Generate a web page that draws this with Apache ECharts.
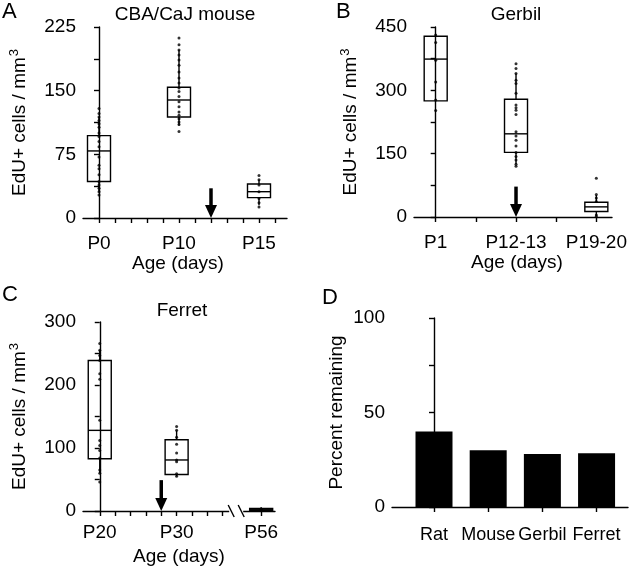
<!DOCTYPE html>
<html>
<head>
<meta charset="utf-8">
<script src="https://cdn.jsdelivr.net/npm/echarts@6/dist/echarts.min.js"></script>
<style>html,body{margin:0;padding:0;background:#fff;}#c{width:634px;height:569px;}</style>
</head>
<body>
<div id="c"></div>
<script>
// ---------- Panel A: CBA/CaJ mouse ----------
const aLabels = ['P0', 'P10', 'P15'];
const aPos = [0, 5, 10];
// [whiskerLow, Q1, median, Q3, whiskerHigh]
const aBoxes = [[31, 43, 79, 97, 119], [109, 119, 139, 154, 198], [15, 24, 31, 40, 45]];
const aDots0 = [129, 123, 119, 115, 111, 107, 100, 96, 90, 84, 72, 62, 58, 51, 43, 39, 35, 31, 27];
const aDots1 = [212, 204, 198, 192, 186, 180, 172, 165, 159, 153, 149, 143, 137, 131, 125, 121, 117, 113, 110, 102];
const aDots2 = [50, 45, 39, 31, 23, 18, 13];
const aArrow = [7, 35];
const aYTicks = [0, 75, 150, 225];

// ---------- Panel B: Gerbil ----------
const bLabels = ['P1', 'P12-13', 'P19-20'];
const bPos = [0, 2, 4];
const bBoxes = [[275, 275, 374, 428, 428], [125, 153, 197, 279, 340], [2, 13, 24, 35, 52]];
const bDots0 = [431, 413, 371, 320, 277, 252];
const bDots1 = [363, 352, 340, 324, 316, 293, 265, 259, 253, 243, 202, 192, 182, 168, 153, 143, 135, 125, 120];
const bDots2 = [92, 53, 45, 37, 5, 1];
const bArrow = [2, 72];
const bYTicks = [0, 150, 300, 450];

// ---------- Panel C: Ferret ----------
const cLabels = ['P20', 'P30', 'P56'];
const cPos = [0, 5, 10.5];
const cBoxes = [[60, 83, 128, 239, 255], [55, 58, 81, 113, 128], [0, 0.5, 2, 4, 6]];
const cDots0 = [266, 255, 247, 239, 218, 209, 144, 112, 104, 96, 84, 65, 60, 46];
const cDots1 = [134, 128, 117, 106, 92, 81, 78, 59, 55];
const cDots2 = [1, 2, 3];
const cArrow = [4, 49];
const cYTicks = [0, 100, 200, 300];

// ---------- Panel D: Percent remaining ----------
const dCats = ['Rat', 'Mouse', 'Gerbil', 'Ferret'];
const dValues = [40, 30, 28, 28.5];
const dYTicks = [0, 50, 100];

const FONT = 'Liberation Sans, Arial, sans-serif';
const FS = 19;

function boxRender(params, api) {
  const x = api.value(0);
  const lo = api.coord([x, api.value(1)]);
  const q1 = api.coord([x, api.value(2)]);
  const md = api.coord([x, api.value(3)]);
  const q3 = api.coord([x, api.value(4)]);
  const hi = api.coord([x, api.value(5)]);
  const hw = 11.5;
  const st = { stroke: '#000', lineWidth: 1.4, fill: null };
  return {
    type: 'group',
    children: [
      { type: 'line', shape: { x1: hi[0], y1: hi[1], x2: q3[0], y2: q3[1] }, style: st },
      { type: 'line', shape: { x1: q1[0], y1: q1[1], x2: lo[0], y2: lo[1] }, style: st },
      { type: 'rect', shape: { x: q3[0] - hw, y: q3[1], width: hw * 2, height: q1[1] - q3[1] }, style: { stroke: '#000', lineWidth: 1.4, fill: 'rgba(0,0,0,0)' } },
      { type: 'line', shape: { x1: md[0] - hw, y1: md[1], x2: md[0] + hw, y2: md[1] }, style: st }
    ]
  };
}
function arrowRender(params, api) {
  const top = api.coord([api.value(0), api.value(1)]);
  const bot = api.coord([api.value(0), 0]);
  const hh = 13, hw = 6;
  return {
    type: 'group',
    children: [
      { type: 'line', shape: { x1: top[0], y1: top[1], x2: bot[0], y2: bot[1] - hh + 1 }, style: { stroke: '#000', lineWidth: 3.5 } },
      { type: 'polygon', shape: { points: [[bot[0] - hw, bot[1] - hh], [bot[0] + hw, bot[1] - hh], [bot[0], bot[1]]] }, style: { fill: '#000' } }
    ]
  };
}
function breakRender(params, api) {
  const a = api.coord([api.value(0), 0]);
  const b = api.coord([api.value(1), 0]);
  return {
    type: 'group',
    children: [
      { type: 'rect', shape: { x: a[0] - 2, y: a[1] - 2, width: b[0] - a[0] + 4, height: 4 }, style: { fill: '#fff' } },
      { type: 'line', shape: { x1: a[0] - 3, y1: a[1] - 6, x2: a[0] + 3, y2: a[1] + 6 }, style: { stroke: '#000', lineWidth: 1.4 } },
      { type: 'line', shape: { x1: b[0] - 3, y1: b[1] - 6, x2: b[0] + 3, y2: b[1] + 6 }, style: { stroke: '#000', lineWidth: 1.4 } }
    ]
  };
}
function barRender(params, api) {
  const x = api.value(0);
  const p = api.coord([x, api.value(1)]);
  const z = api.coord([x, 0]);
  const hw = 18.5;
  return { type: 'rect', shape: { x: p[0] - hw, y: p[1], width: hw * 2, height: z[1] - p[1] }, style: { fill: '#000' } };
}

const axisLineStyle = { show: true, lineStyle: { color: '#000', width: 1.4 } };
const tickStyle = { show: true, length: 5, lineStyle: { color: '#000', width: 1.4 } };
const labelStyle = { color: '#000', fontSize: FS, fontFamily: FONT };
const yName = 'EdU+ cells / mm{s|3}';
const yNameStyle = { color: '#000', fontSize: FS, fontFamily: FONT, rich: { s: { fontSize: 13, fontFamily: FONT, color: '#000', verticalAlign: 'top', padding: [0, 0, 10, 1] } } };

function xAxisCfg(gi, min, max, ticks, labelVals, labels, margin, nameGap, namePad) {
  return {
    type: 'value', gridIndex: gi, min: min, max: max,
    axisLine: axisLineStyle, splitLine: { show: false },
    axisTick: Object.assign({ customValues: ticks }, tickStyle),
    axisLabel: Object.assign({ customValues: labelVals, margin: margin, formatter: v => { const i = labelVals.indexOf(v); return i >= 0 ? labels[i] : ''; } }, labelStyle),
    name: 'Age (days)', nameLocation: 'middle', nameGap: nameGap, nameTextStyle: { color: '#000', fontSize: FS, fontFamily: FONT, padding: namePad }
  };
}
function yAxisCfg(gi, max, tickVals, labelVals, name, nameGap, nameStyle) {
  return {
    type: 'value', gridIndex: gi, min: 0, max: max,
    axisLine: axisLineStyle, splitLine: { show: false },
    axisTick: Object.assign({ customValues: tickVals }, tickStyle),
    axisLabel: Object.assign({ customValues: labelVals, margin: 7 }, labelStyle),
    name: name, nameLocation: 'middle', nameGap: nameGap, nameRotate: 90, nameTextStyle: nameStyle
  };
}
function range(a, b, s) { const r = []; for (let v = a; v <= b + 1e-9; v += s) r.push(+v.toFixed(4)); return r; }
function dots(pos, arr) { return arr.map(v => [pos, v]); }
function boxData(pos, boxes) { return boxes.map((b, i) => [pos[i]].concat(b)); }

const chart = echarts.init(document.getElementById('c'), null, { renderer: 'canvas' });
const dotSeries = (gi, data) => ({ type: 'scatter', xAxisIndex: gi, yAxisIndex: gi, data: data, symbolSize: 3, itemStyle: { color: '#000' }, z: 3, silent: true });

const option = {
  animation: false,
  backgroundColor: '#fff',
  grid: [
    { left: 83, top: 27, width: 204, height: 191 },
    { left: 414, top: 27, width: 198, height: 190 },
    { left: 83, top: 322, width: 192, height: 189 },
    { left: 392, top: 318, width: 236, height: 189 }
  ],
  xAxis: [
    xAxisCfg(0, -1, 11.75, range(0, 11, 1), aPos, aLabels, 16, 36, [0, 14, 0, 0]),
    xAxisCfg(1, -0.54, 4.39, range(0, 4, 1), bPos, bLabels, 16, 36, [0, 0, 0, 8]),
    xAxisCfg(2, -1.09, 11.4, range(0, 8, 1).concat([10.5]), cPos, cLabels, 12, 36, 0),
    {
      type: 'value', gridIndex: 3, min: -0.775, max: 3.58,
      axisLine: axisLineStyle, splitLine: { show: false },
      axisTick: Object.assign({ customValues: [0, 1, 2, 3] }, tickStyle),
      axisLabel: Object.assign({}, labelStyle, { customValues: [0, 1, 2, 3], margin: 19, fontSize: 18, formatter: v => dCats[Math.round(v)] })
    }
  ],
  yAxis: [
    yAxisCfg(0, 225, range(0, 225, 37.5), aYTicks, yName, 52, yNameStyle),
    yAxisCfg(1, 450, range(0, 450, 75), bYTicks, yName, 52, yNameStyle),
    yAxisCfg(2, 300, range(0, 300, 50), cYTicks, yName, 52, yNameStyle),
    yAxisCfg(3, 100, range(0, 100, 25), dYTicks, 'Percent remaining', 46, { color: '#000', fontSize: FS, fontFamily: FONT })
  ],
  graphic: [
    { type: 'text', left: 2, top: 1, style: { text: 'A', font: '22px ' + FONT, fill: '#000' } },
    { type: 'text', left: 336, top: 1, style: { text: 'B', font: '22px ' + FONT, fill: '#000' } },
    { type: 'text', left: 2, top: 284, style: { text: 'C', font: '22px ' + FONT, fill: '#000' } },
    { type: 'text', left: 322, top: 287, style: { text: 'D', font: '22px ' + FONT, fill: '#000' } },
    { type: 'text', x: 185, y: 15, style: { text: 'CBA/CaJ mouse', font: FS + 'px ' + FONT, fill: '#000', textAlign: 'center', textVerticalAlign: 'middle' } },
    { type: 'text', x: 516, y: 15, style: { text: 'Gerbil', font: FS + 'px ' + FONT, fill: '#000', textAlign: 'center', textVerticalAlign: 'middle' } },
    { type: 'text', x: 182, y: 311, style: { text: 'Ferret', font: FS + 'px ' + FONT, fill: '#000', textAlign: 'center', textVerticalAlign: 'middle' } }
  ],
  series: [
    { type: 'custom', xAxisIndex: 0, yAxisIndex: 0, renderItem: boxRender, data: boxData(aPos, aBoxes), z: 2, silent: true },
    dotSeries(0, dots(aPos[0], aDots0).concat(dots(aPos[1], aDots1), dots(aPos[2], aDots2))),
    { type: 'custom', xAxisIndex: 0, yAxisIndex: 0, renderItem: arrowRender, data: [aArrow], silent: true },

    { type: 'custom', xAxisIndex: 1, yAxisIndex: 1, renderItem: boxRender, data: boxData(bPos, bBoxes), z: 2, silent: true },
    dotSeries(1, dots(bPos[0], bDots0).concat(dots(bPos[1], bDots1), dots(bPos[2], bDots2))),
    { type: 'custom', xAxisIndex: 1, yAxisIndex: 1, renderItem: arrowRender, data: [bArrow], silent: true },

    { type: 'custom', xAxisIndex: 2, yAxisIndex: 2, renderItem: boxRender, data: boxData(cPos, cBoxes), z: 2, silent: true },
    dotSeries(2, dots(cPos[0], cDots0).concat(dots(cPos[1], cDots1), dots(cPos[2], cDots2))),
    { type: 'custom', xAxisIndex: 2, yAxisIndex: 2, renderItem: arrowRender, data: [cArrow], silent: true },
    { type: 'custom', xAxisIndex: 2, yAxisIndex: 2, renderItem: breakRender, data: [[8.55, 9.2]], z: 5, silent: true },

    { type: 'custom', xAxisIndex: 3, yAxisIndex: 3, renderItem: barRender, data: dValues.map((v, i) => [i, v]), silent: true }
  ]
};
chart.setOption(option);
</script>
</body>
</html>
